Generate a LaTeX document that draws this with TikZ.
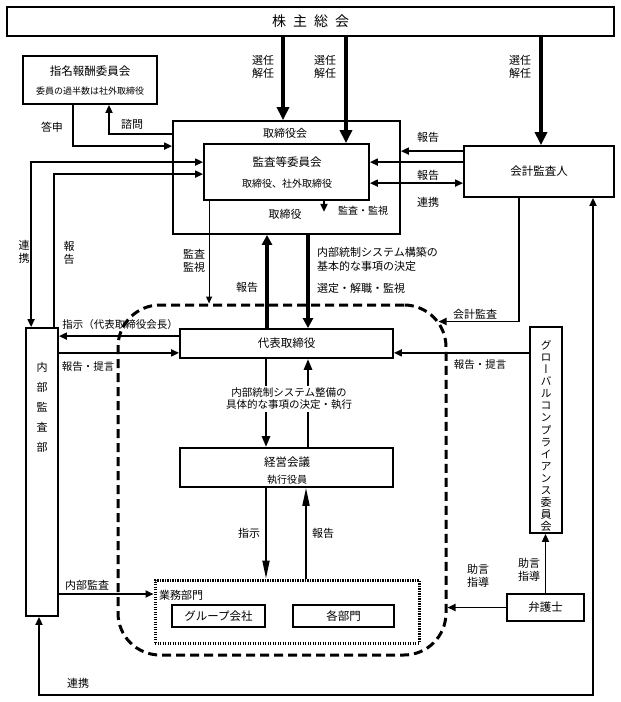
\documentclass[tikz,border=0pt]{standalone}
\usepackage{fontspec}
\setmainfont{Noto Sans CJK JP}
\newfontfamily\tatefont[RawFeature=+vert]{Noto Sans CJK JP}
\usepackage{tikz}
\usetikzlibrary{arrows.meta, calc}
\definecolor{orgink}{HTML}{000000}
\tikzset{
  box/.style={rectangle, draw=orgink, line width=1.8pt, inner sep=0pt, font=\fontsize{11.5}{13}\selectfont},
  ttl/.style={font=\fontsize{11.5}{13}\selectfont, inner sep=1pt},
  sub/.style={font=\fontsize{10}{12}\selectfont, inner sep=1pt},
  lbl/.style={font=\fontsize{11}{12.5}\selectfont, align=center, inner sep=1pt},
  arr/.style={-{Triangle[length=8pt, width=7pt]}, line width=1.8pt, orgink},
  dblarr/.style={{Triangle[length=8pt, width=7pt]}-{Triangle[length=8pt, width=7pt]}, line width=1.8pt, orgink},
  thinarr/.style={-{Triangle[length=7pt, width=6pt]}, line width=1.1pt, orgink},
  midarr/.style={-{Triangle[length=11pt, width=8pt]}, line width=2.6pt, orgink},
  longarr/.style={-{Triangle[length=18pt, width=7pt]}, line width=1.8pt, orgink},
  bigarr/.style={-{Triangle[length=13pt, width=12pt]}, line width=4pt, orgink},
}

\begin{document}
\begin{tikzpicture}[x=1pt, y=-1pt]
  \useasboundingbox (0,0) rectangle (621,702);
  % internal control area
  \node[draw=orgink, line width=3pt, dash pattern=on 9pt off 5pt, rounded corners=42pt,
    minimum width=328pt, minimum height=350pt, inner sep=0pt] (naisei) at (282,480) {};

  \node[box, minimum width=607pt, minimum height=29pt, font=\fontsize{14}{16}\selectfont] (soukai) at (310.5,21.5)
    {株\hspace{7pt}主\hspace{7pt}総\hspace{7pt}会};
  \node[box, minimum width=134pt, minimum height=48pt] (shimei) at (90,80) {};
  \node[ttl] (shimeittl) at (90,71) {指名報酬委員会};
  \node[sub, font=\fontsize{9}{10}\selectfont] (shimeisub) at (90,91) {委員の過半数は社外取締役};
  \node[box, minimum width=227pt, minimum height=113pt] (torikai) at (286.5,177.5) {};
  \node[ttl, font=\fontsize{11}{13}\selectfont] (torikaittl) at (285,133) {取締役会};
  \node[box, minimum width=165pt, minimum height=56pt] (kansa) at (286.5,172) {};
  \node[ttl] (kansattl) at (287,162) {監査等委員会};
  \node[sub] (kansasub) at (287,184) {取締役、社外取締役};
  \node[box, minimum width=150pt, minimum height=51pt] (kaikei) at (539,171.5) {会計監査人};
  \node[box, minimum width=32pt, minimum height=288pt] (naibu) at (42,472) {};
  \node[lbl, font=\fontsize{11}{20}\selectfont] (naibutxt) at (42,407) {内\\部\\監\\査\\部};
  \node[box, minimum width=213pt, minimum height=29pt] (daihyo) at (286.5,343.5) {代表取締役};
  \node[box, minimum width=213pt, minimum height=39pt] (keiei) at (286.5,467.5) {};
  \node[ttl] (keieittl) at (287,462) {経営会議};
  \node[sub] (keieisub) at (287,480) {執行役員};
  \node[draw=orgink, line width=3pt, dash pattern=on 1.4pt off 1.1pt, minimum width=264pt,
    minimum height=63pt, inner sep=0pt] (gyomu) at (287,611.5) {};
  \node[lbl, anchor=west] (gyomuttl) at (158,595) {業務部門};
  \node[box, minimum width=93pt, minimum height=22pt] (group) at (218.5,616) {グループ会社};
  \node[box, minimum width=101pt, minimum height=22pt] (kakubu) at (343.5,616) {各部門};
  \node[box, minimum width=32pt, minimum height=206pt] (global) at (546,430) {};
  \node[lbl, font=\tatefont\fontsize{11}{12.1}\selectfont] (globaltxt) at (546,436)
    {グ\\ロ\\ー\\バ\\ル\\コ\\ン\\プ\\ラ\\イ\\ア\\ン\\ス\\委\\員\\会};
  \node[box, minimum width=77pt, minimum height=27pt] (bengo) at (545.5,607.5) {弁護士};

  \coordinate (s1) at ([xshift=-3.5pt]torikai.north);
  \coordinate (s2) at ([xshift=59.5pt]kansa.north);
  \coordinate (s3) at ([xshift=2pt]kaikei.north);
  \draw[bigarr] (s1 |- soukai.south) -- (s1);
  \draw[bigarr] (s2 |- soukai.south) -- (s2);
  \draw[bigarr] (s3 |- soukai.south) -- (s3);
  \node[lbl] (sen1) at (263,67) {選任\\解任};
  \node[lbl] (sen2) at (325,67) {選任\\解任};
  \node[lbl] (sen3) at (520,67) {選任\\解任};

  \draw[arr] ([xshift=-17pt]shimei.south) |- ([yshift=-26pt]torikai.north west);
  \draw[arr] ([yshift=-14pt]torikai.north west) -| ([xshift=19pt]shimei.south);
  \node[lbl] (toshin) at (52,127) {答申};
  \node[lbl] (shimon) at (132,124) {諮問};

  \coordinate (kh1) at ([yshift=-6pt]kaikei.north west);
  \coordinate (kh2) at ([yshift=-17pt]kaikei.north west);
  \coordinate (kh3) at ([yshift=-38pt]kaikei.north west);
  \draw[arr] (kh1) -- (kh1 -| torikai.east);
  \draw[arr] (kh2) -- (kh2 -| kansa.east);
  \draw[dblarr] (kh3) -- (kh3 -| kansa.east);
  \node[lbl] (hok1) at (428,137) {報告};
  \node[lbl] (hok2) at (428,175) {報告};
  \node[lbl] (renk1) at (428,202) {連携};

  \draw[arr] ([xshift=37.5pt]kansa.south) -- ++(0,11);
  \node[lbl] (torisub) at (285,214) {取締役};
  \node[lbl, font=\fontsize{10}{12}\selectfont] (kanshi1) at (363,211) {監査・監視};

  \coordinate (nb1) at ([xshift=6pt]naibu.north west);
  \coordinate (nb2) at ([xshift=-5pt]naibu.north east);
  \coordinate (ks1) at ([yshift=-19pt]kansa.north west);
  \coordinate (ks2) at ([yshift=-31pt]kansa.north west);
  \draw[dblarr] (nb1) |- (ks1);
  \draw[arr] (nb2) |- (ks2);
  \node[lbl] (renk2) at (24,252) {連\\携};
  \node[lbl] (hok3) at (69,253) {報\\告};

  \coordinate (ks3) at ([xshift=6pt]kansa.south west);
  \draw[thinarr] (ks3) -- (ks3 |- naisei.north);
  \node[lbl, font=\fontsize{11}{13}\selectfont] (kanshi2) at (194,261) {監査\\監視};

  \draw[bigarr, -{Triangle[length=10pt, width=10pt]}] ([xshift=-19.5pt]daihyo.north) -- ([xshift=-19.5pt]torikai.south);
  \draw[bigarr, -{Triangle[length=10pt, width=10pt]}] ([xshift=21.5pt]torikai.south) -- ([xshift=21.5pt]daihyo.north);
  \node[lbl] (hok4) at (247,287) {報告};
  \node[lbl, align=left, anchor=west, font=\fontsize{11}{14}\selectfont] (kouchiku) at (316,259)
    {内部統制システム構築の\\基本的な事項の決定};
  \node[lbl, anchor=west] (sentei) at (316,288) {選定・解職・監視};

  \coordinate (nsk) at ([xshift=-9pt, yshift=-18pt]naisei.north east);
  \draw[arr] ([xshift=-20pt]kaikei.south) |- (nsk);
  \node[lbl] (kaikeikansa) at (475,314) {会計監査};

  \coordinate (dh1) at ([yshift=-8pt]daihyo.north west);
  \coordinate (dh2) at ([yshift=6pt]daihyo.south west);
  \draw[arr] (dh1) -- (dh1 -| naibu.east);
  \draw[arr] (dh2 -| naibu.east) -- (dh2);
  \draw[arr] (dh2 -| global.west) -- (dh2 -| daihyo.east);
  \node[lbl, font=\fontsize{10.5}{12}\selectfont] (shiji1) at (120,325) {指示（代表取締役会長）};
  \node[lbl, font=\fontsize{10.5}{12}\selectfont] (teigen1) at (88,367) {報告・提言};
  \node[lbl, font=\fontsize{10.5}{12}\selectfont] (teigen2) at (480,365) {報告・提言};

  \draw[midarr] ([xshift=-20.5pt]daihyo.south) -- ([xshift=-20.5pt]keiei.north);
  \draw[midarr] ([xshift=21.5pt]keiei.north) -- ([xshift=21.5pt]daihyo.south);
  \node[lbl, fill=white, inner sep=2pt, font=\fontsize{10.5}{12}\selectfont] (seibi) at (289,399)
    {内部統制システム整備の\\具体的な事項の決定・執行};

  \draw[longarr] ([xshift=-20.5pt]keiei.south) -- ([xshift=-21pt]gyomu.north);
  \draw[longarr] ([xshift=19pt]gyomu.north) -- ([xshift=19.5pt]keiei.south);
  \node[lbl] (shiji2) at (249,533) {指示};
  \node[lbl] (hok5) at (323,533) {報告};

  \coordinate (gm1) at ([yshift=17.5pt]gyomu.west);
  \draw[arr] (gm1 -| naibu.east) -- (gm1);
  \node[lbl] (naibukansa) at (87,585) {内部監査};

  \draw[arr] (bengo.west) -- (bengo.west -| naisei.east);
  \draw[arr] (bengo.north) -- (bengo.north |- global.south);
  \node[lbl] (jogen1) at (478,576) {助言\\指導};
  \node[lbl] (jogen2) at (529,570) {助言\\指導};

  \draw[dblarr] ([xshift=-3pt]naibu.south) -- ++(0,78) -| ([xshift=54pt]kaikei.south);
  \node[lbl] (renk3) at (78,683) {連携};
\end{tikzpicture}
\end{document}
